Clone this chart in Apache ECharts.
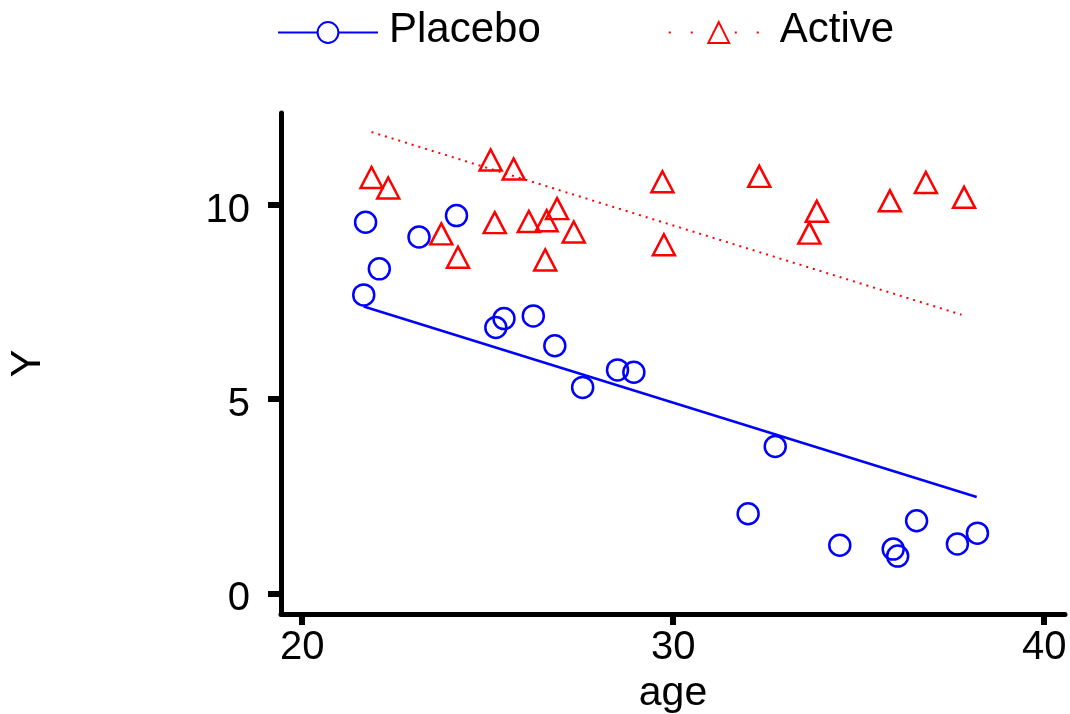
<!DOCTYPE html>
<html>
<head>
<meta charset="utf-8">
<script src="https://cdn.jsdelivr.net/npm/echarts@6/dist/echarts.min.js"></script>
<style>
html,body{margin:0;padding:0;background:#fff;}
#chart{width:1070px;height:714px;}
</style>
</head>
<body>
<div id="chart"></div>
<script>
// Data
var placeboAge = [21.71, 23.15, 24.16, 22.08, 21.66, 25.44, 25.22, 26.23, 26.81, 28.50,
                  28.94, 27.56, 32.75, 32.02, 34.49, 35.93, 36.05, 36.56, 37.66, 38.20];
var placeboY   = [9.55, 9.17, 9.72, 8.35, 7.68, 7.07, 6.84, 7.14, 6.37, 5.75,
                  5.69, 5.30, 3.78, 2.05, 1.24, 1.14, 0.96, 1.87, 1.27, 1.55];
var activeAge  = [21.87, 22.32, 25.08, 25.70, 23.75, 24.20, 25.19, 26.11, 26.59, 26.87,
                  27.32, 26.55, 29.71, 29.75, 32.32, 33.87, 33.67, 35.84, 36.81, 37.84];
var activeY    = [10.70, 10.43, 11.15, 10.92, 9.25, 8.65, 9.54, 9.57, 9.59, 9.90,
                  9.30, 8.58, 10.59, 8.97, 10.73, 9.83, 9.27, 10.10, 10.57, 10.19];
var placeboFitAge = [21.66, 38.18];
var placeboFitY   = [7.38, 2.48];
var activeFitAge  = [21.87, 37.77];
var activeFitY    = [11.87, 7.17];
var xTicks = [20, 30, 40];
var yTicks = [0, 5, 10];
var seriesNames = ['Placebo', 'Active'];

function pairs(xs, ys) { return xs.map(function (x, i) { return [x, ys[i]]; }); }

var FONT = 'Liberation Sans, Arial, sans-serif';
var BLUE = '#0000ff', RED = '#ff0000';

var chart = echarts.init(document.getElementById('chart'), null, {renderer: 'canvas'});
chart.setOption({
  animation: false,
  backgroundColor: '#fff',
  textStyle: {fontFamily: FONT, color: '#000'},
  grid: {left: 281, right: 5, top: 113, bottom: 100, containLabel: false, outerBoundsMode: 'none'},
  legend: {
    data: [
      {name: seriesNames[0]},
      {name: seriesNames[1], lineStyle: {type: [2, 20], width: 2}}
    ],
    left: 272, top: 4,
    itemWidth: 100, itemHeight: 26, itemGap: 127,
    formatter: '{t|{name}}',
    textStyle: {
      fontSize: 42, fontFamily: FONT, color: '#000',
      rich: {t: {fontSize: 42, fontFamily: FONT, color: '#000', padding: [0, 0, 5, 6]}}
    }
  },
  xAxis: {
    type: 'value', min: 19.43, max: 40.56,
    name: 'age', nameLocation: 'middle', nameGap: 57,
    nameTextStyle: {fontSize: 41, fontFamily: FONT, color: '#000'},
    axisLine: {onZero: false, lineStyle: {color: '#000', width: 5}},
    axisTick: {show: true, length: 11, lineStyle: {color: '#000', width: 6}, customValues: xTicks},
    axisLabel: {fontSize: 40, fontFamily: FONT, color: '#000', margin: 14, customValues: xTicks},
    splitLine: {show: false}
  },
  yAxis: {
    type: 'value', min: -0.53, max: 12.36,
    name: 'Y', nameLocation: 'middle', nameGap: 232, nameRotate: 90,
    nameTextStyle: {fontSize: 42, fontFamily: FONT, color: '#000'},
    axisLine: {onZero: false, lineStyle: {color: '#000', width: 5}},
    axisTick: {show: true, length: 13, lineStyle: {color: '#000', width: 6}, customValues: yTicks},
    axisLabel: {
      fontSize: 40, fontFamily: FONT, color: '#000', margin: 31, customValues: yTicks,
      formatter: '{v|{value}}',
      rich: {v: {fontSize: 40, fontFamily: FONT, color: '#000', padding: [12, 0, 0, 0]}}
    },
    splitLine: {show: false}
  },
  series: [
    {
      name: seriesNames[0], type: 'line', data: pairs(placeboFitAge, placeboFitY),
      symbol: 'emptyCircle', showSymbol: false, symbolSize: 21,
      color: BLUE, lineStyle: {color: BLUE, width: 2.5}, z: 2
    },
    {
      name: seriesNames[1], type: 'line', data: pairs(activeFitAge, activeFitY),
      symbol: 'emptyTriangle', showSymbol: false, symbolSize: 21,
      color: RED, lineStyle: {color: RED, width: 2, type: [2, 5]}, z: 2
    },
    {
      name: seriesNames[0], type: 'scatter', data: pairs(placeboAge, placeboY),
      symbol: 'circle', symbolSize: 21,
      itemStyle: {color: 'rgba(0,0,0,0)', borderColor: BLUE, borderWidth: 2.5, opacity: 1}, z: 3
    },
    {
      name: seriesNames[1], type: 'scatter', data: pairs(activeAge, activeY),
      symbol: 'triangle', symbolSize: [22, 21],
      itemStyle: {color: 'rgba(0,0,0,0)', borderColor: RED, borderWidth: 2.5, opacity: 1}, z: 3
    }
  ]
});
</script>
</body>
</html>
